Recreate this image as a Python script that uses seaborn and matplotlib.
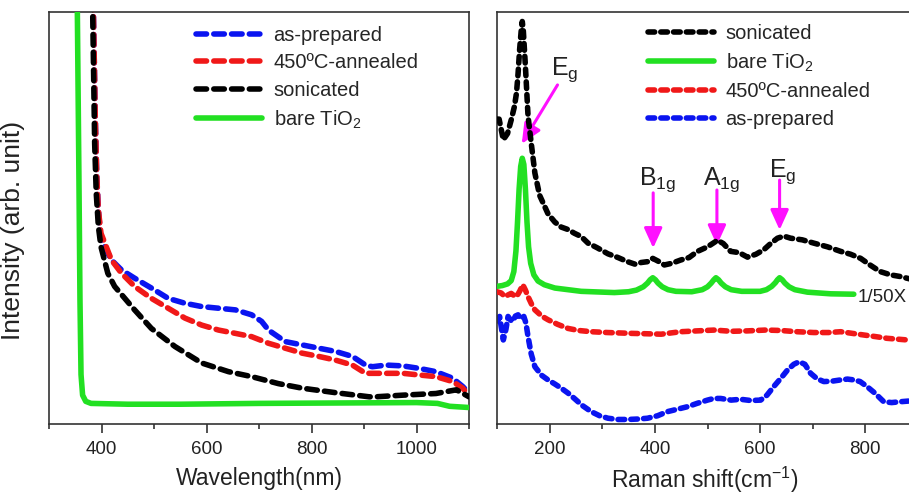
import numpy as np
import pandas as pd
import matplotlib
matplotlib.use("Agg")
import matplotlib.pyplot as plt
import seaborn as sns

# ---------------- data: left panel (UV-vis) ----------------
uv_bare_x = [350, 354, 357, 359, 361, 364, 370, 380, 450, 550, 700, 850, 1000, 1040, 1063, 1100]
uv_bare_y = [1.3, 1.0, 0.6, 0.3, 0.12, 0.07, 0.055, 0.05, 0.048, 0.048, 0.05, 0.051, 0.052, 0.05, 0.043, 0.04]

uv_son_x = [382, 385, 387, 390, 394, 399, 412, 425, 463, 495, 540, 591, 642, 686, 737, 782,
            846, 910, 922, 974, 1037, 1076, 1100]
uv_son_y = [1.1, 0.85, 0.68, 0.56, 0.48, 0.43, 0.366, 0.334, 0.277, 0.232, 0.188, 0.148, 0.127,
            0.115, 0.098, 0.087, 0.076, 0.066, 0.066, 0.070, 0.074, 0.083, 0.066]

uv_ann_x = [383, 386, 388, 391, 394, 399, 419, 438, 463, 495, 527, 559, 591, 623, 655, 686, 718,
            750, 782, 814, 846, 878, 903, 916, 974, 1005, 1037, 1069, 1088, 1100]
uv_ann_y = [1.1, 0.9, 0.75, 0.6, 0.52, 0.463, 0.398, 0.366, 0.334, 0.305, 0.281, 0.257, 0.240,
            0.228, 0.220, 0.212, 0.196, 0.184, 0.172, 0.164, 0.155, 0.143, 0.123, 0.123, 0.123,
            0.119, 0.115, 0.103, 0.087, 0.07]

uv_asp_x = [383, 386, 388, 391, 394, 399, 419, 438, 463, 495, 527, 559, 591, 623, 655, 686, 705,
            718, 750, 782, 814, 846, 878, 903, 916, 942, 974, 1005, 1037, 1069, 1088, 1100]
uv_asp_y = [1.1, 0.9, 0.75, 0.6, 0.52, 0.447, 0.398, 0.374, 0.354, 0.330, 0.305, 0.293, 0.285,
            0.281, 0.277, 0.265, 0.249, 0.228, 0.200, 0.192, 0.184, 0.176, 0.164, 0.143, 0.139,
            0.143, 0.141, 0.135, 0.127, 0.111, 0.091, 0.075]

# ---------------- data: right panel (Raman) ----------------
ra_son_x = [100, 104, 112, 120, 127, 133, 137, 140, 143, 146, 148, 150, 154, 159, 165, 172, 181,
            197, 210, 222, 235, 247, 260, 273, 290, 311, 330, 348, 362, 374, 386, 396, 408, 418,
            432, 449, 465, 481, 500, 512, 519, 530, 544, 560, 576, 592, 607, 620, 633, 645, 658,
            680, 702, 728, 753, 772, 791, 810, 828, 848, 866, 885, 900]
ra_son_y = [0.74, 0.74, 0.690, 0.705, 0.738, 0.77, 0.803, 0.85, 0.909, 0.955, 0.977, 0.955,
            0.868, 0.747, 0.682, 0.609, 0.555, 0.51, 0.49, 0.478, 0.472, 0.463, 0.455, 0.439,
            0.428, 0.413, 0.404, 0.394, 0.388, 0.392, 0.394, 0.402, 0.394, 0.386, 0.39, 0.398,
            0.404, 0.419, 0.430, 0.440, 0.446, 0.438, 0.419, 0.416, 0.405, 0.412, 0.423, 0.438,
            0.451, 0.456, 0.451, 0.447, 0.439, 0.430, 0.419, 0.412, 0.402, 0.385, 0.370, 0.362,
            0.358, 0.352, 0.348]

ra_bare_x = [99, 110, 120, 127, 132, 136, 139, 142, 145, 148, 151, 154, 157, 160, 164, 170, 178,
             190, 210, 260, 323, 350, 365, 378, 386, 391, 396, 401, 406, 414, 425, 440, 470, 490,
             500, 507, 512, 516, 521, 526, 534, 545, 565, 600, 612, 622, 629, 633, 637, 642, 647,
             655, 666, 690, 734, 778]
ra_bare_y = [0.334, 0.336, 0.340, 0.348, 0.37, 0.42, 0.49, 0.57, 0.625, 0.645, 0.630, 0.57,
             0.49, 0.43, 0.39, 0.362, 0.347, 0.338, 0.330, 0.322, 0.319, 0.321, 0.325, 0.333,
             0.342, 0.350, 0.355, 0.350, 0.342, 0.333, 0.326, 0.322, 0.321, 0.326, 0.333, 0.342,
             0.350, 0.355, 0.350, 0.342, 0.333, 0.326, 0.322, 0.322, 0.326, 0.334, 0.343, 0.350,
             0.355, 0.350, 0.342, 0.333, 0.326, 0.320, 0.316, 0.315]

ra_ann_x = [100, 108, 115, 122, 127, 132, 137, 143, 149, 154, 159, 166, 172, 185, 197, 215, 235,
            255, 279, 310, 355, 385, 412, 449, 480, 513, 545, 576, 610, 639, 670, 702, 730, 753,
            775, 797, 820, 841, 870, 900]
ra_ann_y = [0.321, 0.318, 0.309, 0.314, 0.317, 0.312, 0.309, 0.322, 0.338, 0.325, 0.309, 0.29,
            0.277, 0.262, 0.253, 0.242, 0.232, 0.227, 0.224, 0.222, 0.220, 0.219, 0.218, 0.224,
            0.226, 0.228, 0.225, 0.226, 0.228, 0.227, 0.224, 0.222, 0.222, 0.224, 0.220, 0.216,
            0.212, 0.208, 0.205, 0.202]

ra_asp_x = [100, 105, 112, 117, 121, 126, 130, 135, 140, 145, 151, 155, 159, 165, 172, 185, 197,
            210, 222, 235, 247, 262, 279, 295, 311, 330, 348, 367, 386, 405, 424, 443, 462, 480,
            500, 512, 525, 545, 563, 582, 601, 613, 626, 640, 652, 664, 674, 685, 696, 708, 721,
            737, 753, 766, 778, 790, 803, 818, 835, 850, 866, 885, 900]
ra_asp_y = [0.25, 0.261, 0.204, 0.23, 0.261, 0.252, 0.249, 0.262, 0.265, 0.255, 0.261, 0.245,
            0.212, 0.17, 0.139, 0.118, 0.107, 0.097, 0.087, 0.075, 0.062, 0.045, 0.030, 0.020,
            0.014, 0.011, 0.011, 0.012, 0.014, 0.02, 0.030, 0.036, 0.042, 0.050, 0.058, 0.062,
            0.062, 0.058, 0.060, 0.057, 0.058, 0.07, 0.091, 0.112, 0.131, 0.145, 0.151, 0.145,
            0.123, 0.110, 0.103, 0.104, 0.107, 0.109, 0.107, 0.103, 0.091, 0.075, 0.054, 0.052,
            0.054, 0.056, 0.058]

# peak labels (Raman)
peak_labels = ["E$_\\mathregular{g}$", "B$_\\mathregular{1g}$", "A$_\\mathregular{1g}$", "E$_\\mathregular{g}$"]
peak_text_xy = [(202, 0.847), (370, 0.580), (491, 0.580), (616, 0.600)]
peak_arrow_from = [(215, 0.823), (396.8, 0.561), (517.9, 0.568), (637, 0.592)]
peak_arrow_to = [(147, 0.680), (396.8, 0.427), (517.9, 0.434), (637, 0.471)]

# ---------------- style ----------------
sns.set_style("ticks")
plt.rcParams["font.family"] = ["Liberation Sans", "DejaVu Sans"]
plt.rcParams["mathtext.fontset"] = "custom"
plt.rcParams["mathtext.rm"] = "Liberation Sans"
plt.rcParams["mathtext.it"] = "Liberation Sans:italic"
plt.rcParams["mathtext.bf"] = "Liberation Sans:bold"

BLUE = "#0a14f0"
RED = "#f01818"
BLACK = "#000000"
GREEN = "#22e022"
MAGENTA = "#ff10ff"

W, H = 909, 496
fig = plt.figure(figsize=(W / 100, H / 100), dpi=100)

def px_axes(x0, x1, y0, y1):
    return fig.add_axes([x0 / W, 1 - y1 / H, (x1 - x0) / W, (y1 - y0) / H])

axL = px_axes(49, 469, 12, 424)
axR = px_axes(497, 918, 12, 424)

LW = 4.0
dash_l = (0, (1.9, 1.3))
dash_r = (0, (1.2, 1.1))

def draw(ax, x, y, color, label, dashed, ls, z):
    df = pd.DataFrame({"x": x, "y": y})
    kw = dict(color=color, lw=LW, label=label, zorder=z, estimator=None, sort=False, ax=ax)
    if dashed:
        sns.lineplot(data=df, x="x", y="y", linestyle=ls, dash_capstyle="round", **kw)
    else:
        sns.lineplot(data=df, x="x", y="y", solid_capstyle="round", **kw)

draw(axL, uv_asp_x, uv_asp_y, BLUE, "as-prepared", True, dash_l, 2)
draw(axL, uv_ann_x, uv_ann_y, RED, "450ºC-annealed", True, dash_l, 3)
draw(axL, uv_son_x, uv_son_y, BLACK, "sonicated", True, dash_l, 4)
draw(axL, uv_bare_x, uv_bare_y, GREEN, "bare TiO$_\\mathregular{2}$", False, "-", 5)

draw(axR, ra_son_x, ra_son_y, BLACK, "sonicated", True, dash_r, 4)
draw(axR, ra_bare_x, ra_bare_y, GREEN, "bare TiO$_\\mathregular{2}$", False, "-", 5)
draw(axR, ra_ann_x, ra_ann_y, RED, "450ºC-annealed", True, dash_r, 3)
draw(axR, ra_asp_x, ra_asp_y, BLUE, "as-prepared", True, dash_r, 2)

axR.text(785, 0.306, "1/50X", fontsize=13.5, ha="left", va="center", color="#222222")

for lab, (tx, ty), src, dst in zip(peak_labels, peak_text_xy, peak_arrow_from, peak_arrow_to):
    axR.text(tx, ty, lab, fontsize=18, ha="left", va="baseline", color="#222222")
    axR.annotate("", xy=dst, xytext=src,
                 arrowprops=dict(arrowstyle="-|>,head_length=0.55,head_width=0.25",
                                 color=MAGENTA, lw=2.2, mutation_scale=22,
                                 shrinkA=0, shrinkB=0))

for ax, (xmin, xmax), major, minor in [
    (axL, (300, 1100), [400, 600, 800, 1000], np.arange(300, 1101, 100)),
    (axR, (100, 900), [200, 400, 600, 800], np.arange(100, 901, 100)),
]:
    ax.set_xlim(xmin, xmax)
    ax.set_ylim(0, 1)
    ax.set_xticks(major)
    ax.set_xticks(minor, minor=True)
    ax.set_yticks([])
    ax.tick_params(axis="x", which="major", direction="out", length=6.5, width=1.1,
                   labelsize=13.5, pad=6, colors="#222222")
    ax.tick_params(axis="x", which="minor", direction="out", length=3.6, width=1.1, colors="#222222")
    for s in ax.spines.values():
        s.set_linewidth(1.2)
        s.set_color("#333333")
        s.set_visible(True)
    ax.set_ylabel("")

axL.set_xlabel("Wavelength(nm)", fontsize=16.5, labelpad=6, color="#222222")
axR.set_xlabel("Raman shift(cm$^\\mathregular{-1}$)", fontsize=16.5, labelpad=6, color="#222222")
axR.xaxis.set_label_coords((705 - 497) / (918 - 497), -0.1)
axL.set_ylabel("Intensity (arb. unit)", fontsize=19, color="#222222", labelpad=6)
axL.yaxis.set_label_coords(-0.058, 0.47)

legkw = dict(frameon=False, fontsize=14.5, handlelength=3.3, handletextpad=0.55,
             labelspacing=0.42, borderpad=0, borderaxespad=0, loc="upper left",
             bbox_transform=fig.transFigure)
axL.legend(bbox_to_anchor=(196 / W, 1 - 26 / H), **legkw)
axR.legend(bbox_to_anchor=(648 / W, 1 - 24 / H), **legkw)

fig.savefig("out.png", dpi=100)
